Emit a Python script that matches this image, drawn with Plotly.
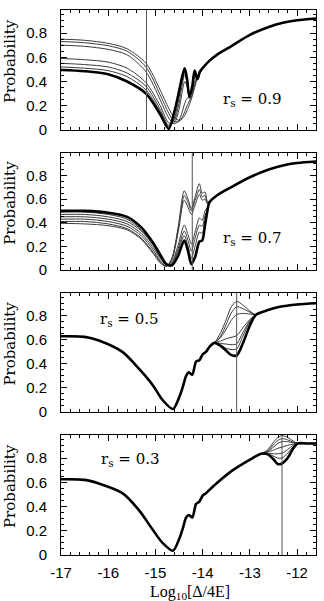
import plotly.graph_objects as go

# ---------------- data ----------------
rs_labels = ["0.9", "0.7", "0.5", "0.3"]
vline_x = [-15.19, -14.22, -13.28, -12.32]

# Panel 1 (r_s = 0.9)
p1_x = [-17, -16.5, -16.0, -15.6, -15.2, -14.9, -14.72, -14.6, -14.5, -14.44, -14.38, -14.33, -14.28,
        -14.22, -14.17, -14.11, -14.06, -13.98, -13.86, -13.7, -13.4, -13.0, -12.6, -12.3, -12.0, -11.6]
p1_tail = [0.62, 0.69, 0.785, 0.85, 0.885, 0.905, 0.92]
p1_thick = [0.495, 0.485, 0.46, 0.40, 0.30, 0.13, 0.01, 0.15, 0.32, 0.43, 0.51, 0.42, 0.27,
            0.36, 0.49, 0.42, 0.48, 0.52, 0.57]
p1_thin = [
    [0.75, 0.74, 0.715, 0.67, 0.55, 0.33, 0.18, 0.10, 0.08, 0.09, 0.12, 0.16, 0.21, 0.28, 0.35, 0.43, 0.47, 0.52, 0.57],
    [0.73, 0.72, 0.695, 0.65, 0.52, 0.29, 0.14, 0.07, 0.07, 0.10, 0.15, 0.20, 0.24, 0.29, 0.37, 0.44, 0.47, 0.52, 0.57],
    [0.70, 0.69, 0.665, 0.62, 0.48, 0.25, 0.10, 0.05, 0.08, 0.14, 0.22, 0.26, 0.27, 0.32, 0.40, 0.44, 0.47, 0.52, 0.57],
    [0.59, 0.58, 0.56, 0.51, 0.39, 0.20, 0.06, 0.06, 0.17, 0.30, 0.40, 0.36, 0.28, 0.33, 0.44, 0.42, 0.47, 0.52, 0.57],
    [0.55, 0.54, 0.52, 0.47, 0.36, 0.17, 0.04, 0.08, 0.22, 0.36, 0.46, 0.38, 0.27, 0.34, 0.47, 0.42, 0.47, 0.52, 0.57],
    [0.52, 0.51, 0.49, 0.44, 0.33, 0.15, 0.03, 0.10, 0.27, 0.40, 0.49, 0.40, 0.27, 0.35, 0.48, 0.42, 0.48, 0.52, 0.57],
]

# Panel 2 (r_s = 0.7)
p2_x = [-17, -16.5, -16.0, -15.6, -15.3, -15.05, -14.9, -14.77, -14.65, -14.52, -14.39, -14.31, -14.24,
        -14.16, -14.07, -14.01, -13.95, -13.9, -13.86, -13.7, -13.4, -13.0, -12.6, -12.3, -12.0, -11.6]
p2_tail = [0.63, 0.70, 0.785, 0.85, 0.885, 0.905, 0.918]
p2_thick = [0.50, 0.50, 0.485, 0.45, 0.36, 0.23, 0.13, 0.05, 0.04, 0.12, 0.25, 0.16, 0.05,
            0.11, 0.24, 0.25, 0.38, 0.50, 0.57]
p2_thin = [
    [0.43, 0.43, 0.41, 0.37, 0.29, 0.17, 0.08, 0.03, 0.10, 0.36, 0.67, 0.60, 0.52, 0.62, 0.73, 0.65, 0.66, 0.58, 0.58],
    [0.41, 0.41, 0.39, 0.35, 0.27, 0.15, 0.07, 0.03, 0.10, 0.34, 0.63, 0.57, 0.50, 0.59, 0.68, 0.62, 0.63, 0.57, 0.575],
    [0.395, 0.39, 0.375, 0.34, 0.26, 0.14, 0.06, 0.03, 0.09, 0.32, 0.59, 0.53, 0.47, 0.55, 0.64, 0.59, 0.60, 0.56, 0.57],
    [0.45, 0.45, 0.43, 0.39, 0.31, 0.19, 0.10, 0.04, 0.07, 0.21, 0.38, 0.30, 0.22, 0.32, 0.44, 0.42, 0.50, 0.53, 0.57],
    [0.47, 0.47, 0.45, 0.41, 0.33, 0.21, 0.11, 0.04, 0.06, 0.18, 0.33, 0.25, 0.16, 0.27, 0.38, 0.37, 0.46, 0.51, 0.57],
    [0.49, 0.49, 0.47, 0.43, 0.34, 0.22, 0.12, 0.04, 0.05, 0.16, 0.29, 0.20, 0.10, 0.20, 0.32, 0.31, 0.42, 0.50, 0.57],
]

# Panel 3 (r_s = 0.5)
p3_x = [-17, -16.5, -16.2, -15.7, -15.35, -15.06, -14.85, -14.63, -14.5, -14.42, -14.35, -14.29, -14.22,
        -14.14, -14.07, -14.0, -13.93, -13.86, -13.75, -13.62, -13.5, -13.4, -13.28, -13.15, -13.0,
        -12.87, -12.6, -12.37, -12.0, -11.6]
p3_head = [0.63, 0.625, 0.595, 0.50, 0.36, 0.225, 0.10, 0.025, 0.12, 0.21, 0.30, 0.33, 0.31,
           0.42, 0.43, 0.48, 0.50, 0.54, 0.575]
p3_tail = [0.81, 0.85, 0.875, 0.895, 0.905]
p3_thick = [0.55, 0.51, 0.475, 0.47, 0.57, 0.72]
p3_thin = [
    [0.66, 0.77, 0.87, 0.92, 0.89, 0.84],
    [0.63, 0.73, 0.82, 0.875, 0.86, 0.83],
    [0.62, 0.69, 0.76, 0.81, 0.82, 0.815],
    [0.59, 0.61, 0.62, 0.635, 0.70, 0.77],
    [0.57, 0.565, 0.56, 0.567, 0.66, 0.76],
    [0.555, 0.53, 0.52, 0.525, 0.63, 0.75],
]

# Panel 4 (r_s = 0.3)
p4_x = [-17, -16.5, -16.2, -15.7, -15.35, -15.06, -14.85, -14.63, -14.5, -14.42, -14.35, -14.29, -14.22,
        -14.14, -14.07, -14.0, -13.93, -13.71, -13.36, -12.94, -12.76, -12.62, -12.5, -12.41, -12.32,
        -12.2, -12.08, -11.99, -11.8, -11.6]
p4_head = [0.625, 0.62, 0.59, 0.51, 0.37, 0.21, 0.10, 0.035, 0.13, 0.22, 0.31, 0.33, 0.31,
           0.42, 0.44, 0.49, 0.51, 0.59, 0.70, 0.80, 0.835]
p4_tail = [0.92, 0.92, 0.92]
p4_thick = [0.83, 0.79, 0.75, 0.755, 0.80, 0.88]
p4_thin = [
    [0.87, 0.93, 0.97, 0.985, 0.97, 0.94],
    [0.86, 0.91, 0.945, 0.96, 0.95, 0.93],
    [0.855, 0.89, 0.92, 0.935, 0.935, 0.925],
    [0.85, 0.865, 0.88, 0.89, 0.905, 0.915],
    [0.84, 0.835, 0.835, 0.84, 0.87, 0.905],
    [0.835, 0.815, 0.80, 0.80, 0.84, 0.895],
]

y_tickvals = [0, 0.2, 0.4, 0.6, 0.8]
y_ticktext = ["0", "0.2", "0.4", "0.6", "0.8"]
x_tickvals = [-17, -16, -15, -14, -13, -12]
x_ticktext = ["-17", "-16", "-15", "-14", "-13", "-12"]

# ---------------- assemble ----------------
panels = [
    (p1_x, [h + p1_tail for h in p1_thin], p1_thick + p1_tail),
    (p2_x, [h + p2_tail for h in p2_thin], p2_thick + p2_tail),
    (p3_x, [p3_head + h + p3_tail for h in p3_thin], p3_head + p3_thick + p3_tail),
    (p4_x, [p4_head + h + p4_tail for h in p4_thin], p4_head + p4_thick + p4_tail),
]

W, H = 324, 601
ML, MR, MT, MB = 61, 8, 10, 46
plot_h = H - MT - MB
panel_px = [(10, 130), (153, 270), (293, 412), (435, 555)]
domains = [[(H - MB - b) / plot_h, (H - MB - t) / plot_h] for t, b in panel_px]

fig = go.Figure()
for i, (xs, thins, thick) in enumerate(panels):
    ax = "" if i == 0 else str(i + 1)
    for ys in thins:
        fig.add_trace(go.Scatter(x=xs, y=ys, xaxis="x" + ax, yaxis="y" + ax, mode="lines",
                                 line=dict(color="#3a3a3a", width=1, shape="spline", smoothing=0.8),
                                 showlegend=False, hoverinfo="skip"))
    fig.add_trace(go.Scatter(x=xs, y=thick, xaxis="x" + ax, yaxis="y" + ax, mode="lines",
                             line=dict(color="#000000", width=2.6, shape="spline", smoothing=0.8),
                             showlegend=False, hoverinfo="skip"))

layout = dict(width=W, height=H, margin=dict(l=ML, r=MR, t=MT, b=MB),
              paper_bgcolor="white", plot_bgcolor="white", showlegend=False)
shapes = []
annotations = []
for i in range(4):
    ax = "" if i == 0 else str(i + 1)
    layout["xaxis" + ax] = dict(
        domain=[0, 1], anchor="y" + ax, range=[-17, -11.6], showgrid=False, zeroline=False,
        showline=True, linecolor="black", linewidth=1, mirror="allticks",
        ticks="inside", ticklen=6, tickwidth=1, tickcolor="black",
        tickvals=x_tickvals, ticktext=x_ticktext, showticklabels=(i == 3),
        tickfont=dict(family="Liberation Sans, Arial", size=15, color="black"),
        ticklabelstandoff=4,
        minor=dict(ticks="inside", ticklen=3, tickcolor="black", dtick=0.2, tick0=-17, showgrid=False),
    )
    layout["yaxis" + ax] = dict(
        domain=domains[i], anchor="x" + ax, range=[0, 0.99], showgrid=False, zeroline=False,
        showline=True, linecolor="black", linewidth=1, mirror="allticks",
        ticks="inside", ticklen=6, tickwidth=1, tickcolor="black",
        tickvals=y_tickvals, ticktext=y_ticktext,
        tickfont=dict(family="Liberation Sans, Arial", size=15, color="black"),
        ticklabelstandoff=10,
        minor=dict(ticks="inside", ticklen=3, tickcolor="black", dtick=0.05, tick0=0, showgrid=False),
    )
    shapes.append(dict(type="line", xref="x" + ax, yref="y" + ax + " domain",
                       x0=vline_x[i], x1=vline_x[i], y0=0, y1=1,
                       line=dict(color="#555555", width=1)))
    annotations.append(dict(xref="paper", yref="y" + ax + " domain", x=-0.2, y=0.575,
                            text="Probability", textangle=-90, showarrow=False,
                            xanchor="center", yanchor="middle",
                            font=dict(family="DejaVu Serif", size=15, color="black")))

rs_pos = [(-12.95, 0.25), (-12.95, 0.27), (-15.55, 0.77), (-15.53, 0.79)]
for i in range(4):
    ax = "" if i == 0 else str(i + 1)
    annotations.append(dict(xref="x" + ax, yref="y" + ax, x=rs_pos[i][0], y=rs_pos[i][1],
                            text="r<sub>s</sub> = " + rs_labels[i], showarrow=False,
                            xanchor="center", yanchor="middle",
                            font=dict(family="DejaVu Serif", size=15, color="black")))

annotations.append(dict(xref="paper", yref="paper", x=0.506, y=-37 / plot_h,
                        text="Log<sub>10</sub>[Δ/4E]", showarrow=False,
                        xanchor="center", yanchor="middle",
                        font=dict(family="Liberation Serif", size=16, color="black")))

layout["shapes"] = shapes
layout["annotations"] = annotations
fig.update_layout(**layout)
fig.write_html("out.html")
